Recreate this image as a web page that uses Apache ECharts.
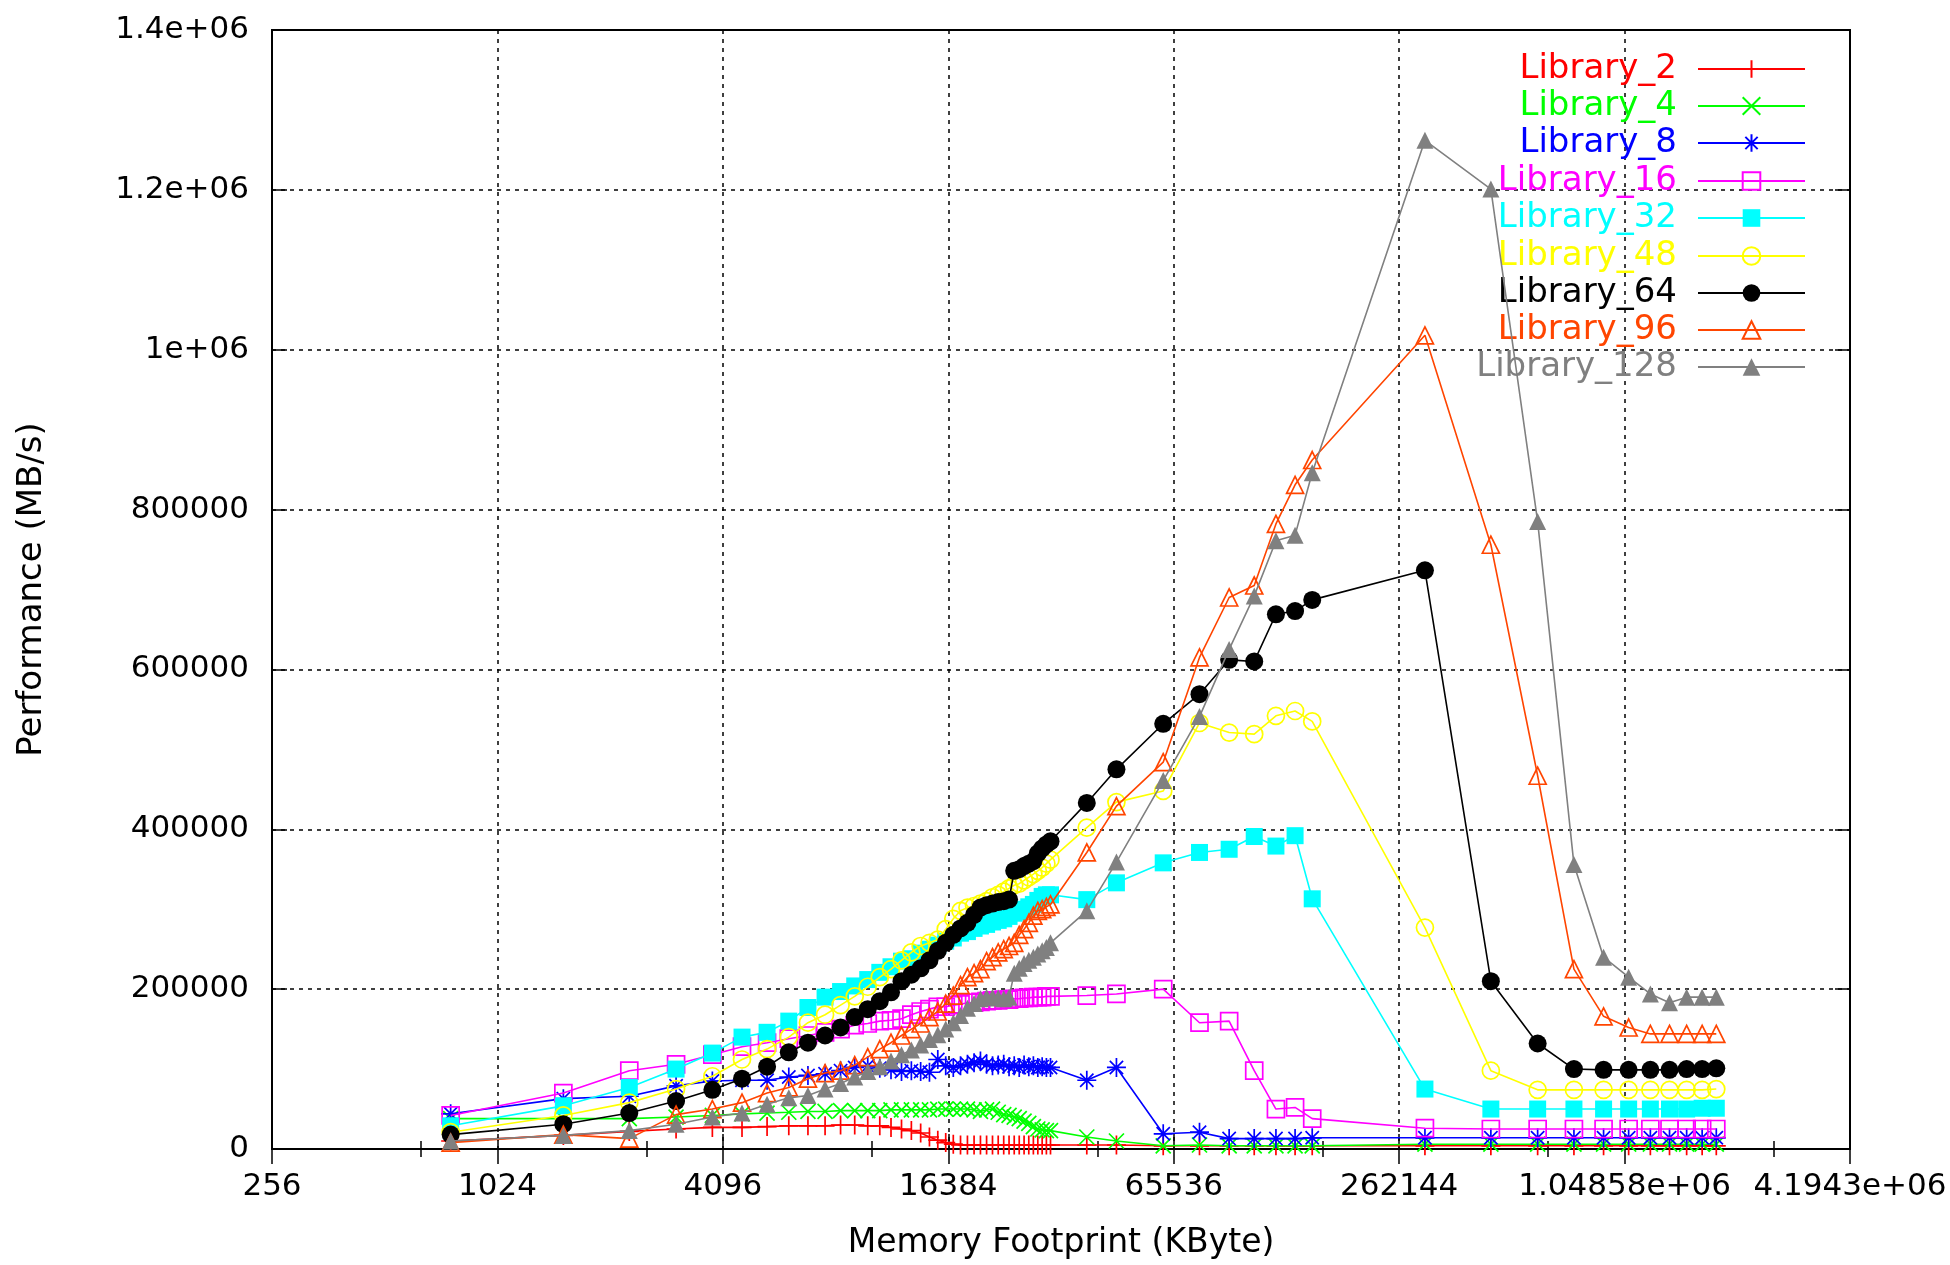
<!DOCTYPE html>
<html><head><meta charset="utf-8">
<script src="https://cdn.jsdelivr.net/npm/echarts@6/dist/echarts.min.js"></script>
<style>html,body{margin:0;padding:0;background:#fff}#c{width:1950px;height:1265px}</style>
</head><body><div id="c"></div>
<script>
// Memory footprint (KByte)
const X_KB = [768,1536,2304,3072,3840,4608,5376,6144,6912,7680,8448,9216,9984,10752,11520,12288,13056,13824,14592,15360,
  16128,16896,17664,18432,19200,19968,20736,21504,22272,23040,23808,24576,25344,26112,26880,27648,28416,29184,29952,30720,
  38400,46080,61440,76800,92160,107520,122880,138240,153600,
  307200,460800,614400,768000,921600,1075200,1228800,1382400,1536000,1689600,1843200];

// Performance (MB/s)
const LIB_2 = [10000,17000,22000,25000,27000,27000,28000,29000,29000,29000,30000,30000,29000,29000,27000,25000,23000,20000,15000,11000,
  8000,6000,5000,5000,5000,5000,5000,5000,5000,5000,5000,5000,5000,5000,5000,5000,5000,5000,5000,5000,
  5000,5000,4000,4000,4000,4000,4000,4000,4000,
  4000,4000,4000,4000,4000,4000,4000,4000,4000,4000,4000];
const LIB_4 = [38000,38000,38000,40000,42000,44000,45000,46000,47000,47000,48000,48000,48000,48000,49000,49000,49000,49000,49000,50000,
  50000,50000,50000,50000,49000,47000,49000,50000,46000,43000,42000,40000,38000,35000,32000,28000,25000,24000,23000,23000,
  15000,10000,4000,5000,4000,4000,4000,4000,4000,
  6000,6000,6000,6000,6000,6000,6000,6000,6000,6000,6000];
const LIB_8 = [44000,63000,66000,79000,85000,86000,86000,90000,92000,94000,98000,102000,104000,101000,99000,97000,98000,97000,96000,112000,
  104000,102000,104000,106000,108000,110000,106000,104000,105000,106000,103000,104000,102000,105000,103000,104000,102000,103000,102000,102000,
  86000,102000,19000,21000,13000,13000,13000,13000,14000,
  14000,14000,14000,14000,14000,14000,14000,14000,14000,14000,14000];
const LIB_16 = [42000,70000,98000,106000,118000,128000,133000,138000,142000,146000,150000,155000,157000,160000,161000,163000,168000,172000,175000,178000,
  178000,180000,181000,183000,183000,184000,185000,186000,186000,187000,187000,188000,188000,189000,189000,190000,190000,190000,191000,191000,
  192000,194000,200000,158000,160000,98000,50000,52000,38000,
  26000,25000,25000,25000,25000,25000,25000,25000,25000,25000,25000];
const LIB_32 = [29000,54000,77000,100000,120000,140000,146000,160000,177000,190000,197000,204000,212000,221000,228000,235000,238000,245000,250000,255000,
  260000,264000,270000,272000,276000,279000,281000,284000,286000,288000,291000,295000,297000,300000,303000,306000,311000,316000,318000,318000,
  312000,333000,358000,371000,375000,391000,379000,392000,313000,
  75000,50000,50000,50000,50000,50000,50000,50000,50000,51000,51000];
const LIB_48 = [21000,42000,58000,75000,91000,112000,125000,140000,158000,168000,180000,191000,203000,215000,225000,236000,246000,254000,258000,262000,
  275000,288000,298000,302000,304000,307000,310000,315000,318000,322000,326000,330000,332000,336000,340000,344000,348000,352000,357000,362000,
  402000,434000,448000,533000,521000,519000,542000,548000,535000,
  277000,98000,74000,74000,74000,74000,74000,74000,74000,74000,75000];
const LIB_64 = [18000,31000,45000,60000,74000,88000,103000,121000,133000,142000,152000,165000,175000,185000,196000,210000,218000,226000,236000,248000,
  258000,268000,276000,283000,293000,302000,305000,307000,309000,310000,312000,348000,350000,354000,357000,360000,370000,376000,381000,385000,
  433000,475000,532000,569000,612000,610000,669000,673000,687000,
  724000,210000,132000,100000,99000,99000,99000,99000,100000,100000,101000];
const LIB_96 = [8000,18000,13000,43000,50000,58000,70000,77000,88000,95000,98000,105000,115000,125000,133000,142000,150000,157000,165000,172000,
  182000,192000,205000,215000,220000,225000,235000,240000,246000,250000,254000,258000,268000,275000,283000,292000,298000,300000,303000,306000,
  371000,429000,484000,615000,690000,705000,782000,831000,862000,
  1018000,756000,467000,225000,166000,152000,144000,144000,144000,144000,144000];
const LIB_128 = [10000,17000,23000,31000,40000,45000,56000,64000,67000,75000,82000,90000,97000,103000,110000,118000,124000,130000,137000,143000,
  150000,158000,167000,176000,182000,188000,190000,190000,189000,188000,190000,220000,226000,232000,236000,240000,244000,248000,252000,258000,
  298000,359000,461000,541000,625000,692000,761000,768000,846000,
  1262000,1201000,785000,356000,240000,215000,194000,183000,190000,190000,190000];

const SERIES_NAMES = ['Library_2','Library_4','Library_8','Library_16','Library_32','Library_48','Library_64','Library_96','Library_128'];
const SERIES_VALUES = [LIB_2, LIB_4, LIB_8, LIB_16, LIB_32, LIB_48, LIB_64, LIB_96, LIB_128];

const X_TICK_VALUES = [256,1024,4096,16384,65536,262144,1048576,4194304];
const X_TICK_LABELS = ['256','1024','4096','16384','65536','262144','1.04858e+06','4.1943e+06'];
const Y_TICK_VALUES = [0,200000,400000,600000,800000,1000000,1200000,1400000];
const Y_TICK_LABELS = ['0','200000','400000','600000','800000','1e+06','1.2e+06','1.4e+06'];

// styles
const COLORS = ['#ff0000','#00ff00','#0000ff','#ff00ff','#00ffff','#ffff00','#000000','#ff4500','#808080'];
const PLUS = 'path://M0,5L10,5M5,0L5,10';
const CROSS = 'path://M0,0L10,10M0,10L10,0';
const STAR = 'path://M0,5L10,5M5,0L5,10M1.5,1.5L8.5,8.5M1.5,8.5L8.5,1.5';
const MARKS = [
  {symbol: PLUS, size: 19, fill: false, stroke: true},
  {symbol: CROSS, size: 15, fill: false, stroke: true},
  {symbol: STAR, size: 19, fill: false, stroke: true},
  {symbol: 'rect', size: 17, fill: false, stroke: true},
  {symbol: 'rect', size: 17, fill: true, stroke: false},
  {symbol: 'circle', size: 17, fill: false, stroke: true},
  {symbol: 'circle', size: 18, fill: true, stroke: false},
  {symbol: 'triangle', size: 17, fill: false, stroke: true},
  {symbol: 'triangle', size: 17, fill: true, stroke: false}
];
const FONT = 'DejaVu Sans';
const LEGEND_ROW_Y = [69, 106, 143, 181, 218, 256, 293, 330, 367];

const chart = echarts.init(document.getElementById('c'), null, {renderer: 'canvas'});

const series = SERIES_NAMES.map((name, i) => {
  const m = MARKS[i];
  return {
    name: name,
    type: 'line',
    xAxisIndex: 0, yAxisIndex: 0,
    data: X_KB.map((x, j) => [x, SERIES_VALUES[i][j]]),
    symbol: m.symbol,
    symbolSize: m.size,
    showAllSymbol: true,
    color: COLORS[i],
    lineStyle: {color: COLORS[i], width: 1.6},
    itemStyle: {
      color: m.fill ? COLORS[i] : 'rgba(0,0,0,0)',
      borderColor: COLORS[i],
      borderWidth: m.stroke ? 1.7 : 0
    },
    emphasis: {disabled: true},
    z: 2 + i
  };
});

const legends = SERIES_NAMES.map((name, i) => ({
  orient: 'vertical',
  right: 144,
  top: LEGEND_ROW_Y[i] - 17,
  align: 'right',
  padding: 0,
  itemGap: 0,
  itemWidth: 107,
  itemHeight: 22,
  selectedMode: false,
  data: [{name: name, textStyle: {color: COLORS[i]}}],
  textStyle: {fontFamily: FONT, fontSize: 34, color: COLORS[i], padding: [0, 16, 0, 0]}
}));

const axisLineStyle = {show: true, lineStyle: {color: '#000', width: 2}};
const splitLineStyle = {show: true, lineStyle: {color: '#000', width: 1.5, type: [4, 5]}};

chart.setOption({
  animation: false,
  backgroundColor: '#fff',
  grid: {left: 272, right: 100, top: 30, bottom: 115, containLabel: false,
         show: true, borderColor: '#000', borderWidth: 2, backgroundColor: 'rgba(0,0,0,0)'},
  legend: legends,
  xAxis: [{
    type: 'log', logBase: 2, min: 256, max: 4194304, interval: 2,
    position: 'bottom',
    name: 'Memory Footprint (KByte)', nameLocation: 'middle', nameGap: 78,
    nameTextStyle: {fontFamily: FONT, fontSize: 33, color: '#000'},
    axisLine: axisLineStyle,
    axisTick: {show: true, inside: true, length: 15, lineStyle: {color: '#000', width: 1.5}},
    minorTick: {show: true, splitNumber: 2, length: 8, lineStyle: {color: '#000', width: 1.5}},
    axisLabel: {fontFamily: FONT, fontSize: 31, color: '#000', margin: 22,
      formatter: v => { const k = X_TICK_VALUES.indexOf(Math.round(v)); return k >= 0 ? X_TICK_LABELS[k] : ''; }},
    splitLine: splitLineStyle
  }, {
    type: 'log', logBase: 2, min: 256, max: 4194304, interval: 2,
    position: 'top',
    axisLine: axisLineStyle,
    axisTick: {show: true, inside: true, length: 15, lineStyle: {color: '#000', width: 1.5}},
    minorTick: {show: true, splitNumber: 2, length: 8, lineStyle: {color: '#000', width: 1.5}},
    axisLabel: {show: false},
    splitLine: {show: false}
  }],
  yAxis: [{
    type: 'value', min: 0, max: 1400000, interval: 200000,
    position: 'left',
    name: 'Performance (MB/s)', nameLocation: 'middle', nameGap: 223, nameRotate: 90,
    nameTextStyle: {fontFamily: FONT, fontSize: 34, color: '#000'},
    axisLine: axisLineStyle,
    axisTick: {show: true, inside: true, length: 15, lineStyle: {color: '#000', width: 1.5}},
    axisLabel: {fontFamily: FONT, fontSize: 31, color: '#000', margin: 23,
      formatter: v => { const k = Y_TICK_VALUES.indexOf(Math.round(v)); return k >= 0 ? Y_TICK_LABELS[k] : ''; }},
    splitLine: splitLineStyle
  }, {
    type: 'value', min: 0, max: 1400000, interval: 200000,
    position: 'right',
    axisLine: axisLineStyle,
    axisTick: {show: true, inside: true, length: 15, lineStyle: {color: '#000', width: 1.5}},
    axisLabel: {show: false},
    splitLine: {show: false}
  }],
  series: series
});
</script>
</body></html>
